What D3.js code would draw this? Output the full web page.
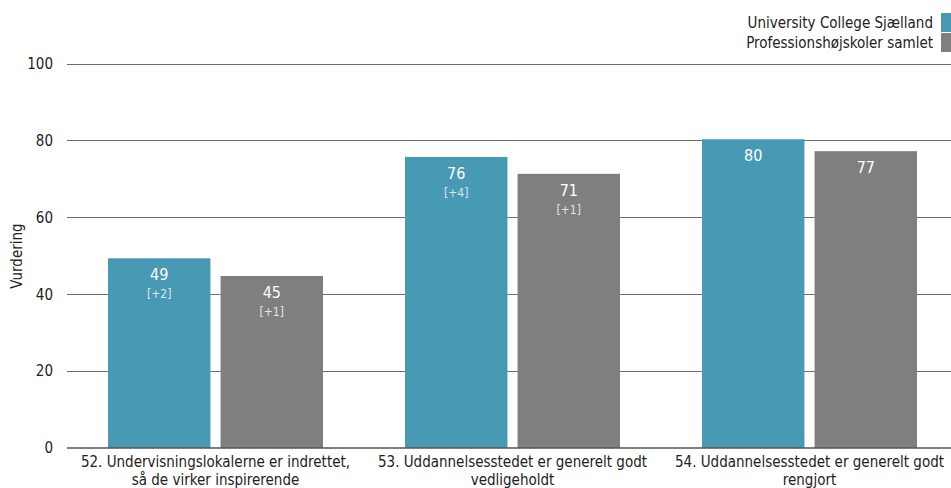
<!DOCTYPE html>
<html><head><meta charset="utf-8">
<script src="https://cdn.jsdelivr.net/npm/d3@7"></script>
<style>body{margin:0;background:#fff;overflow:hidden}svg{display:block;font-family:Tahoma,"DejaVu Sans Condensed","DejaVu Sans",sans-serif}</style>
</head><body>
<svg id="c" width="951" height="488"></svg>
<script>
const categories = [
  ["52. Undervisningslokalerne er indrettet,", "så de virker inspirerende"],
  ["53. Uddannelsesstedet er generelt godt", "vedligeholdt"],
  ["54. Uddannelsesstedet er generelt godt", "rengjort"]
];
const seriesNames = ["University College Sjælland", "Professionshøjskoler samlet"];
const ucsValues = [49.4, 75.8, 80.4];
const phValues = [44.8, 71.4, 77.3];
const ucsLabels = ["49", "76", "80"];
const phLabels = ["45", "71", "77"];
const ucsDeltas = ["[+2]", "[+4]", ""];
const phDeltas = ["[+1]", "[+1]", ""];
const yTicks = [0, 20, 40, 60, 80, 100];
const colors = ["#4899b4", "#7f7f7f"];

const svg = d3.select("#c");
const x0 = d3.scaleBand().domain(d3.range(categories.length)).range([67, 958]).paddingInner(0).paddingOuter(0);
const x1 = d3.scaleBand().domain([0, 1]).range([41, 256]).paddingInner(0.09);
const y = d3.scaleLinear().domain([0, 100]).range([448, 64]);

svg.append("g").selectAll("line").data(yTicks.filter(d => d > 0)).join("line")
  .attr("x1", 67).attr("x2", 951).attr("y1", d => y(d)).attr("y2", d => y(d))
  .attr("stroke", "#6f6f6f").attr("stroke-width", 1).attr("shape-rendering", "crispEdges");

svg.append("g").selectAll("text").data(yTicks).join("text")
  .attr("x", 53).attr("y", d => y(d)).attr("dy", "0.35em").attr("text-anchor", "end")
  .attr("font-size", 15).attr("fill", "#222").text(d => d);

svg.append("text").attr("transform", "translate(22,256) rotate(-90)")
  .attr("text-anchor", "middle").attr("font-size", 15).attr("fill", "#222").text("Vurdering");

const series = [ucsValues, phValues];
const labels = [ucsLabels, phLabels];
const deltas = [ucsDeltas, phDeltas];
const groups = svg.append("g").selectAll("g").data(categories).join("g")
  .attr("transform", (d, i) => `translate(${x0(i)},0)`);

[0, 1].forEach(s => {
  groups.append("rect")
    .attr("x", x1(s)).attr("width", x1.bandwidth())
    .attr("y", (d, i) => y(series[s][i])).attr("height", (d, i) => y(0) - y(series[s][i]))
    .attr("fill", colors[s]);
  groups.append("text")
    .attr("x", x1(s) + x1.bandwidth() / 2).attr("y", (d, i) => y(series[s][i]) + 22)
    .attr("text-anchor", "middle").attr("font-size", 16).attr("fill", "#fff")
    .text((d, i) => labels[s][i]);
  groups.append("text")
    .attr("x", x1(s) + x1.bandwidth() / 2).attr("y", (d, i) => y(series[s][i]) + 40)
    .attr("text-anchor", "middle").attr("font-size", 12).attr("fill", "#dde8ee")
    .text((d, i) => deltas[s][i]);
});

svg.append("line").attr("x1", 67).attr("x2", 951).attr("y1", y(0)).attr("y2", y(0))
  .attr("stroke", "#555").attr("stroke-width", 1.5);

groups.each(function(d) {
  const t = d3.select(this).append("text").attr("text-anchor", "middle").attr("font-size", 15).attr("fill", "#222");
  d.forEach((line, k) => t.append("tspan").attr("x", x0.bandwidth() / 2).attr("y", 467 + k * 18).text(line));
});

const lg = svg.append("g").selectAll("g").data(seriesNames).join("g")
  .attr("transform", (d, i) => `translate(0,${13 + i * 20})`);
lg.append("rect").attr("x", 941).attr("width", 12).attr("height", 19).attr("fill", (d, i) => colors[i]);
lg.append("text").attr("x", 933).attr("y", 10).attr("dy", "0.35em").attr("text-anchor", "end")
  .attr("font-size", 15).attr("fill", "#222").text(d => d);
</script>
</body></html>
